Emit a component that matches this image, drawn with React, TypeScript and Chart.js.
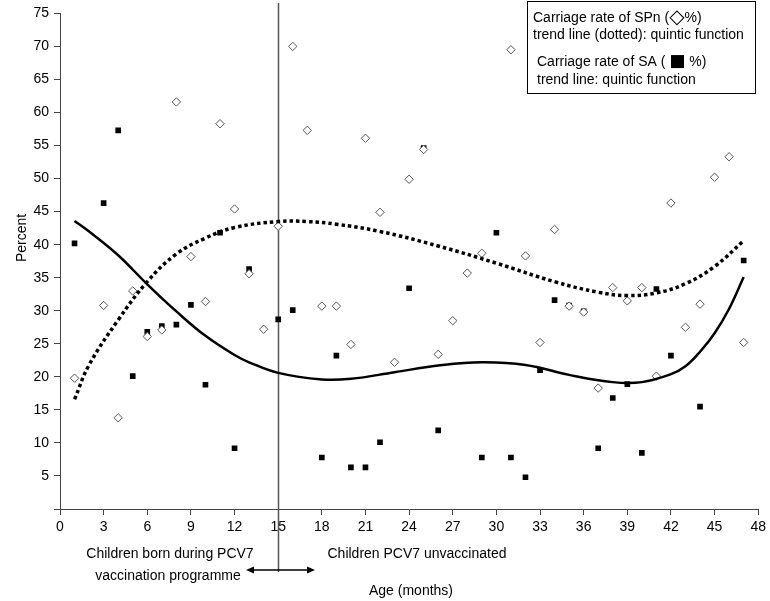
import React, { useEffect, useRef } from 'react';
import { Chart, registerables } from 'chart.js';

Chart.register(...registerables);

// SPn carriage rate (diamonds)
const spnMonths = [1, 3, 4, 5, 6, 7, 8, 9, 10, 11, 12, 13, 14, 15, 16, 17, 18, 19, 20, 21, 22, 23, 24, 25, 26, 27, 28, 29, 31, 32, 33, 34, 35, 36, 37, 38, 39, 40, 41, 42, 43, 44, 45, 46, 47];
const spnValues = [19.8, 30.8, 13.8, 33.0, 26.1, 27.1, 61.6, 38.2, 31.4, 58.3, 45.4, 35.6, 27.2, 42.8, 70.0, 57.3, 30.7, 30.7, 24.9, 56.1, 44.9, 22.2, 49.9, 54.4, 23.4, 28.5, 35.7, 38.7, 69.5, 38.3, 25.2, 42.3, 30.7, 29.8, 18.3, 33.5, 31.5, 33.5, 20.1, 46.3, 27.5, 31.0, 50.2, 53.3, 25.2];

// SA carriage rate (squares)
const saMonths = [1, 3, 4, 5, 6, 7, 8, 9, 10, 11, 12, 13, 15, 16, 18, 19, 20, 21, 22, 24, 25, 26, 29, 30, 31, 32, 33, 34, 35, 36, 37, 38, 39, 40, 41, 42, 44, 47];
const saValues = [40.2, 46.3, 57.3, 20.1, 26.8, 27.7, 27.9, 30.9, 18.8, 41.8, 9.2, 36.3, 28.7, 30.1, 7.8, 23.2, 6.3, 6.3, 10.1, 33.4, 54.6, 11.9, 7.8, 41.8, 7.8, 4.8, 21.0, 31.6, 30.8, 29.9, 9.2, 16.8, 18.9, 8.5, 33.3, 23.2, 15.5, 37.6];

// Trend lines
const spnTrendMonths = [1, 2, 4, 6, 8, 10, 12, 15, 17, 19, 22, 26, 30, 34, 37, 39, 41, 43, 45, 47];
const spnTrendValues = [16.6, 21.8, 28.6, 34.4, 38.6, 41.0, 42.6, 43.5, 43.5, 43.1, 42.0, 39.8, 37.2, 34.4, 32.8, 32.3, 32.7, 34.1, 36.7, 40.6];
const saTrendMonths = [1, 2, 4, 6, 8, 10, 12, 13, 15, 18, 20, 23, 26, 29, 32, 35, 38, 40, 42, 43, 44, 45, 46, 47];
const saTrendValues = [43.6, 42.0, 38.4, 34.0, 29.9, 26.2, 23.3, 22.2, 20.6, 19.6, 19.7, 20.7, 21.7, 22.2, 21.8, 20.3, 19.2, 19.2, 20.4, 21.6, 23.8, 26.6, 30.3, 35.1];

const xTickStep = 3;
const yTickStep = 5;

const FONT = "Arial, 'Liberation Sans', Helvetica, sans-serif";

const toPoints = (xs: number[], ys: number[]) => xs.map((x, i) => ({ x, y: ys[i] }));

function drawSegments(ctx: CanvasRenderingContext2D, parts: [string, string][], x: number, y: number) {
  let cx = x;
  for (const [text, font] of parts) {
    ctx.font = font;
    ctx.fillText(text, cx, y);
    cx += ctx.measureText(text).width;
  }
}

const annotations = {
  id: 'annotations',
  beforeDatasetsDraw(chart: any) {
    const ctx = chart.ctx;
    const xs = chart.scales.x;
    const px = Math.round(xs.getPixelForValue(15)) + 0.5;
    ctx.save();
    ctx.strokeStyle = '#555';
    ctx.lineWidth = 1.5;
    ctx.beginPath();
    ctx.moveTo(px, 3);
    ctx.lineTo(px, 572);
    ctx.stroke();
    ctx.restore();
  },
  afterDraw(chart: any) {
    const ctx = chart.ctx;
    ctx.save();
    ctx.fillStyle = '#000';
    ctx.strokeStyle = '#000';
    ctx.font = `14px ${FONT}`;
    ctx.textBaseline = 'middle';
    ctx.textAlign = 'center';
    ctx.fillText('Children born during PCV7', 170, 554);
    ctx.fillText('vaccination programme', 168, 576);
    ctx.fillText('Children PCV7 unvaccinated', 417, 554);
    ctx.fillText('Age (months)', 411, 591);

    // y title
    ctx.save();
    ctx.translate(22, 238);
    ctx.rotate(-Math.PI / 2);
    ctx.fillText('Percent', 0, 0);
    ctx.restore();

    // double arrow
    const ay = 570;
    const x1 = 246, x2 = 315;
    ctx.lineWidth = 1.5;
    ctx.beginPath();
    ctx.moveTo(x1 + 5, ay);
    ctx.lineTo(x2 - 5, ay);
    ctx.stroke();
    ctx.beginPath();
    ctx.moveTo(x1, ay);
    ctx.lineTo(x1 + 8, ay - 3.5);
    ctx.lineTo(x1 + 8, ay + 3.5);
    ctx.closePath();
    ctx.fill();
    ctx.beginPath();
    ctx.moveTo(x2, ay);
    ctx.lineTo(x2 - 8, ay - 3.5);
    ctx.lineTo(x2 - 8, ay + 3.5);
    ctx.closePath();
    ctx.fill();

    // legend box
    ctx.lineWidth = 1;
    ctx.fillStyle = '#fff';
    ctx.fillRect(527.5, 1.5, 228, 92);
    ctx.strokeRect(527.5, 1.5, 228, 92);
    ctx.fillStyle = '#000';
    ctx.textAlign = 'left';
    const f14 = `14px ${FONT}`;
    const fSym = `20px 'DejaVu Sans', ${FONT}`;
    const fSq = `17px 'DejaVu Sans', ${FONT}`;
    drawSegments(ctx, [['Carriage rate of SPn (', f14], ['\u25C7', fSym], ['%)', f14]], 533, 18);
    ctx.font = f14;
    ctx.fillText('trend line (dotted): quintic function', 533, 35);
    drawSegments(ctx, [['Carriage rate of SA ( ', f14], ['\u25A0', fSq], [' %)', f14]], 537, 62);
    ctx.font = f14;
    ctx.fillText('trend line: quintic function', 537, 80);
    ctx.restore();
  },
};

export default function App() {
  const ref = useRef<HTMLCanvasElement | null>(null);

  useEffect(() => {
    if (!ref.current) return;
    const chart = new Chart(ref.current, {
      type: 'scatter',
      data: {
        datasets: [
          {
            type: 'line',
            label: 'SPn trend',
            data: toPoints(spnTrendMonths, spnTrendValues),
            borderColor: '#000',
            borderWidth: 3.5,
            borderDash: [3.5, 3],
            pointRadius: 0,
            tension: 0.4,
            fill: false,
          } as any,
          {
            type: 'line',
            label: 'SA trend',
            data: toPoints(saTrendMonths, saTrendValues),
            borderColor: '#000',
            borderWidth: 2.5,
            pointRadius: 0,
            tension: 0.4,
            fill: false,
          } as any,
          {
            label: 'SPn',
            data: toPoints(spnMonths, spnValues),
            pointStyle: 'rectRot',
            pointRadius: 4.2,
            backgroundColor: '#fff',
            borderColor: '#555',
            borderWidth: 1,
          },
          {
            label: 'SA',
            data: toPoints(saMonths, saValues),
            pointStyle: 'rect',
            pointRadius: 4,
            backgroundColor: '#000',
            borderColor: '#000',
            borderWidth: 0,
          },
        ],
      },
      options: {
        animation: false,
        responsive: true,
        maintainAspectRatio: false,
        layout: { padding: { left: 0, top: 8, right: 10, bottom: 0 } },
        plugins: { legend: { display: false }, tooltip: { enabled: false } },
        scales: {
          x: {
            type: 'linear',
            min: 0,
            max: 48,
            afterFit: (s: any) => { s.height = 92; },
            ticks: {
              stepSize: xTickStep,
              color: '#000',
              font: { family: FONT, size: 14 },
              padding: 4,
              maxRotation: 0,
            },
            grid: { drawOnChartArea: false, drawTicks: true, tickLength: 6, color: '#444' },
            border: { color: '#444', width: 1 },
          },
          y: {
            min: 0,
            max: 75,
            afterFit: (s: any) => { s.width = 60; },
            ticks: {
              stepSize: yTickStep,
              color: '#000',
              font: { family: FONT, size: 14 },
              padding: 5,
              callback: (v: any) => (v === 0 ? '' : String(v)),
            },
            grid: { drawOnChartArea: false, drawTicks: true, tickLength: 6, color: '#444' },
            border: { color: '#444', width: 1 },
          },
        },
      },
      plugins: [annotations],
    });
    return () => chart.destroy();
  }, []);

  return (
    <div style={{ position: 'fixed', left: 0, top: 0, width: 770, height: 601, background: '#fff' }}>
      <canvas ref={ref} />
    </div>
  );
}
